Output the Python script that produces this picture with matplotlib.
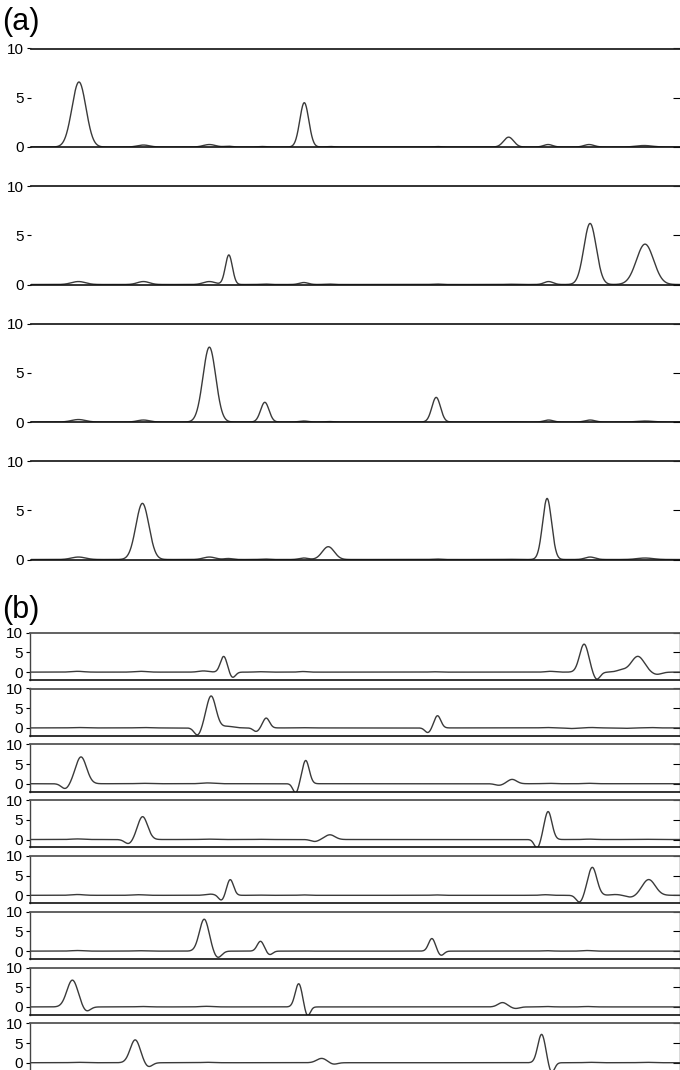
"""
 plot.py

 Two stacked figure blocks:
   (a) four traces made of gaussian peaks on a 0..10 scale
   (b) eight filtered traces, peaks with undershoot lobes, -2..10 scale
"""

import numpy as np
import matplotlib
matplotlib.use("Agg")
import matplotlib.pyplot as plt

plt.rcParams["font.family"] = ["Liberation Sans", "DejaVu Sans"]

# 1. Data (peak centres, heights, widths)
# (a) panels
a_centers = [
    [78.5, 143, 209, 228, 262, 304, 330, 436, 508.5, 548, 589, 644],
    [78, 143, 209, 228.5, 264, 303.5, 328, 436, 509.5, 548.5, 590, 645],
    [78, 143, 209, 264.5, 303.5, 328, 436, 509.5, 548.5, 590, 645],
    [78, 142, 209, 228, 264, 303.5, 328, 436, 509.5, 547, 590, 645],
]
a_heights = [
    [6.6, 0.2, 0.25, 0.08, 0.05, 4.5, 0.05, 0.05, 1.0, 0.25, 0.25, 0.15],
    [0.3, 0.3, 0.3, 3.0, 0.05, 0.2, 0.05, 0.05, 0.03, 0.3, 6.2, 4.1],
    [0.25, 0.2, 7.6, 2.0, 0.1, 0.05, 2.5, 0.02, 0.2, 0.2, 0.1],
    [0.25, 5.7, 0.25, 0.1, 0.05, 0.15, 1.3, 0.05, 0.02, 6.2, 0.25, 0.15],
]
a_widths = [
    [7, 6, 6, 4, 4, 4.5, 4, 4, 5, 4.5, 5, 8],
    [7, 6, 6, 3.5, 4, 4.5, 4, 4, 4.5, 4.5, 6.2, 8.6],
    [7, 6, 6.4, 4.2, 4.5, 4, 4.3, 4.5, 4.5, 5, 8],
    [7, 6.5, 6, 4, 4, 4.5, 6, 4, 4.5, 4.5, 5, 8],
]

# (b) panels, negative heights are the undershoot lobes
b_centers = [
    [78, 141, 204, 224.2, 233, 260, 303.5, 434, 550.7, 584.6, 597.1, 622, 638.3, 657],
    [78, 143, 198.2, 211.6, 228, 256.7, 266.7, 303.5, 428.4, 438, 547, 572, 592, 627, 650],
    [65.9, 81.5, 143, 208, 296.2, 306.2, 499.6, 512.6, 548.6, 589.8],
    [78, 129.2, 143.1, 208, 260, 315.3, 330.4, 537.7, 548.6, 590, 646],
    [78, 139, 211, 222, 230.7, 260, 303.5, 436, 546, 580.2, 592.8, 616, 631.8, 649.2],
    [78, 139, 204.7, 218.1, 261, 270.2, 303.5, 432.4, 441.5, 547, 587.6],
    [72.9, 86.7, 143, 207, 299.2, 307.9, 503, 516, 547, 588],
    [78, 135.7, 148.7, 208, 322.2, 334, 542.1, 552, 590, 646],
]
b_heights = [
    [0.2, 0.2, 0.3, 4.0, -1.4, 0.1, 0.15, 0.08, 0.2, 7.1, -1.9, 0.5, 4.0, -0.6],
    [0.1, 0.1, -1.9, 8.1, 0.4, -0.9, 2.5, 0.05, -1.2, 3.1, 0.1, -0.15, 0.1, -0.1, 0.1],
    [-1.3, 6.8, 0.1, 0.2, -2.4, 5.9, -0.4, 1.1, 0.1, 0.1],
    [0.15, -1.1, 5.8, 0.1, 0.05, -0.5, 1.2, -2.2, 7.1, 0.1, 0.05],
    [0.2, 0.15, 0.3, -1.3, 4.0, 0.05, 0.1, 0.1, 0.15, -1.8, 7.1, 0.2, -0.5, 4.0],
    [0.15, 0.1, 8.1, -1.7, 2.5, -0.9, 0.05, 3.2, -1.1, 0.1, 0.15],
    [6.8, -1.2, 0.1, 0.15, 5.9, -2.4, 1.1, -0.4, 0.1, 0.1],
    [0.1, 5.8, -1.1, 0.1, 1.1, -0.4, 7.2, -2.6, 0.1, 0.1],
]
b_widths = [
    [6, 6, 5, 3.3, 3, 4, 4, 4, 4.5, 4.5, 3.5, 5, 6.5, 5],
    [6, 6, 3.5, 4.8, 6, 3, 3.3, 4, 3, 3.3, 5, 5, 5, 5, 5],
    [4, 5.5, 6, 6, 2.8, 3.5, 4, 4.5, 5, 5],
    [6, 4, 5, 6, 4, 4, 5, 3, 3.8, 5, 6],
    [6, 6, 5, 3, 3.3, 4, 4, 4, 4.5, 3.5, 4.5, 5, 5, 6.5],
    [6, 6, 4.8, 4, 3.3, 3, 4, 3.3, 3, 5, 5],
    [5.5, 4, 6, 6, 3.5, 2.8, 4.5, 4, 5, 5],
    [6, 5, 4, 6, 5, 4, 3.8, 3, 5, 6],
]

x_min, x_max = 30, 680
y_ticks = [0, 5, 10]


def trace(x, centers, heights, widths):
    y = np.zeros_like(x)
    for c, h, w in zip(centers, heights, widths):
        y += h * np.exp(-0.5 * ((x - c) / w) ** 2)
    return y


# 2. Figure and layout (pixel based)
W, H = 680, 1070
fig = plt.figure(figsize=(W / 100, H / 100), dpi=100)
fig.patch.set_facecolor("white")


def px_axes(left, top, width, height):
    return fig.add_axes([left / W, 1 - (top + height) / H, width / W, height / H])


line_color = "#3a3a3a"
x = np.linspace(x_min, x_max, 2601)


def style_axes(ax, ylim, box):
    ax.set_xlim(x_min, x_max)
    ax.set_ylim(*ylim)
    ax.set_xticks([])
    ax.set_yticks(y_ticks)
    ax.tick_params(axis="y", direction="out", length=3, width=0.8, pad=1.5,
                   labelsize=11, colors="black")
    for side in ["left", "right"]:
        ax.spines[side].set_visible(box)
        ax.spines[side].set_color("#444444")
        ax.spines[side].set_linewidth(1.0)
    ax.spines["top"].set_color("#222222" if not box else "#555555")
    ax.spines["top"].set_linewidth(1.3)
    ax.spines["bottom"].set_color("#111111")
    ax.spines["bottom"].set_linewidth(1.2)
    sec = ax.secondary_yaxis("right")
    sec.set_yticks(y_ticks)
    sec.tick_params(direction="in", length=5, width=0.8, labelright=False)
    sec.spines["right"].set_visible(False)


# 3. Block (a)
a_tops = [48.5, 186, 323.5, 461]
for i, top in enumerate(a_tops):
    ax = px_axes(30.5, top, 649.5, 98.5)
    y = trace(x, a_centers[i], a_heights[i], a_widths[i])
    ax.plot(x, y, color=line_color, linewidth=1.0)
    style_axes(ax, (0, 10), box=False)

# 4. Block (b)
for i in range(8):
    top = 632.7 + 55.8 * i
    ax = px_axes(29.5, top, 650, 47.3)
    y = trace(x, b_centers[i], b_heights[i], b_widths[i])
    ax.plot(x, y, color=line_color, linewidth=1.0)
    style_axes(ax, (-2, 10), box=True)

# panel letters
fig.text(2 / W, 1 - 22 / H, "(a)", fontsize=22, ha="left", va="center")
fig.text(2 / W, 1 - 610 / H, "(b)", fontsize=22, ha="left", va="center")

fig.savefig("out.png", dpi=100)
print("saved out.png")
